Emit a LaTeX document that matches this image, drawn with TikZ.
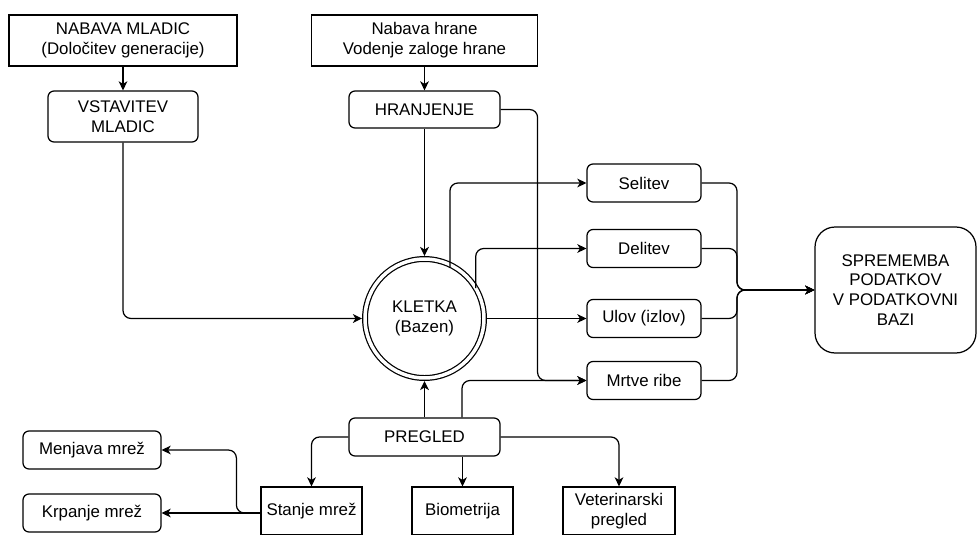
\documentclass[tikz,border=0pt]{standalone}
\usepackage{fontspec}
\setmainfont{Liberation Sans}
\usetikzlibrary{arrows.meta}

\begin{document}
\begin{tikzpicture}[x=0.02cm,y=-0.02cm,line width=0.7pt,font=\fontsize{9.6}{11.3}\selectfont]
\tikzset{BoxStyle/.style = {draw, rectangle, align=center, inner sep=0pt},
   RoundStyle/.style = {BoxStyle, rounded corners=0.12cm},
   EdgeStyle/.style = {-{Stealth[length=5.2pt,width=5pt,inset=1.5pt]}, rounded corners=0.16cm}}
\path[use as bounding box, fill=white] (0,0) rectangle (980,534);
\clip (0,0) rectangle (980,534);

   \node[BoxStyle, minimum width=4.56cm, minimum height=1.02cm] (nabm) at (123,40.5) {NABAVA MLADIC\\(Določitev generacije)};
   \node[RoundStyle, minimum width=3cm, minimum height=1.02cm] (vst) at (123,116.5) {VSTAVITEV\\MLADIC};
   \node[BoxStyle, minimum width=4.52cm, minimum height=1.02cm] (nabh) at (424.5,40.5) {Nabava hrane\\Vodenje zaloge hrane};
   \node[RoundStyle, minimum width=3.02cm, minimum height=0.74cm] (hra) at (424.5,109.5) {HRANJENJE};
   \node[draw, circle, double, double distance=0.07cm, minimum size=2.38cm, outer sep=0.06cm, inner sep=0pt, align=center] (klet) at (424.5,318.5) {KLETKA\\(Bazen)};

   \node[RoundStyle, minimum width=2.28cm, minimum height=0.76cm] (sel) at (644,183) {Selitev};
   \node[RoundStyle, minimum width=2.28cm, minimum height=0.76cm] (del) at (644,248.5) {Delitev};
   \node[RoundStyle, minimum width=2.28cm, minimum height=0.76cm] (ulo) at (644,318.5) {Ulov (izlov)};
   \node[RoundStyle, minimum width=2.28cm, minimum height=0.76cm] (mrt) at (644,380.5) {Mrtve ribe};
   \node[BoxStyle, rounded corners=0.4cm, minimum width=3.22cm, minimum height=2.52cm] (spr) at (895.5,290) {SPREMEMBA\\PODATKOV\\V PODATKOVNI\\BAZI};

   \node[RoundStyle, minimum width=3.02cm, minimum height=0.76cm] (pre) at (424.5,437) {PREGLED};
   \node[RoundStyle, minimum width=2.76cm, minimum height=0.76cm] (men) at (92,450) {Menjava mrež};
   \node[RoundStyle, minimum width=2.76cm, minimum height=0.76cm] (krp) at (92,513) {Krpanje mrež};
   \node[BoxStyle, minimum width=2.02cm, minimum height=0.96cm] (sta) at (311.5,511) {Stanje mrež};
   \node[BoxStyle, minimum width=2.02cm, minimum height=0.96cm] (bio) at (462.5,511) {Biometrija};
   \node[BoxStyle, minimum width=2.24cm, minimum height=0.96cm] (vet) at (619,511) {Veterinarski\\pregled};

   \draw[EdgeStyle] (nabm) -- (vst);
   \draw[EdgeStyle] (nabh) -- (hra);
   \draw[EdgeStyle] (hra) -- (klet);
   \draw[EdgeStyle] (vst) |- (klet);
   \draw[EdgeStyle, shorten <=-0.11cm] (klet.66) |- (sel);
   \draw[EdgeStyle, shorten <=-0.11cm] (klet.35) |- (del);
   \draw[EdgeStyle] (klet) -- (ulo);
   \draw[EdgeStyle] (hra.east) -- ++(37,0) |- (mrt);
   \draw[EdgeStyle] ([xshift=0.75cm]pre.north) |- (mrt);
   \draw[EdgeStyle] (pre) -- (klet);

%   right side joins into one arrow
   \coordinate (mrg) at (737,290);
   \foreach \n in {sel,del,ulo,mrt}
      \draw[EdgeStyle] (\n) -| (mrg) -- (spr);

   \draw[EdgeStyle] (pre) -| (sta);
   \draw[EdgeStyle] (bio.north |- pre.south) -- (bio);
   \draw[EdgeStyle] (pre) -| (vet);
   \draw[EdgeStyle] (sta.west |- krp) -- (krp);
   \draw[EdgeStyle] (sta.west |- krp) -- ++(-24,0) |- (men);
\end{tikzpicture}
\end{document}
